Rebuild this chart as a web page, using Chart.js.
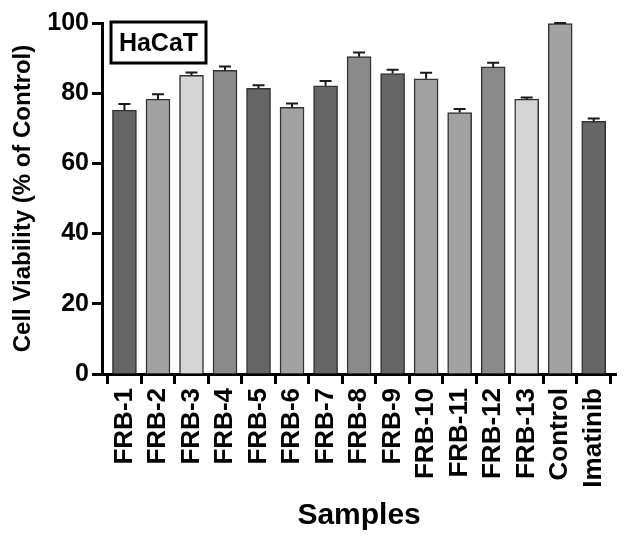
<!DOCTYPE html>
<html>
<head>
<meta charset="utf-8">
<script src="https://cdn.jsdelivr.net/npm/chart.js@4.4.1/dist/chart.umd.min.js"></script>
<style>
  html, body { margin: 0; padding: 0; background: #fff; }
  #box { width: 629px; height: 536px; }
</style>
</head>
<body>
<div id="box"><canvas id="viabilityChart" width="629" height="536"></canvas></div>
<script>
// values
const samples = ["FRB-1", "FRB-2", "FRB-3", "FRB-4", "FRB-5", "FRB-6", "FRB-7",
  "FRB-8", "FRB-9", "FRB-10", "FRB-11", "FRB-12", "FRB-13", "Control", "Imatinib"];
const viability = [75.2, 78.3, 85.1, 86.5, 81.4, 76.0, 82.1, 90.4, 85.6, 84.1, 74.5, 87.5, 78.3, 99.8, 72.0];
const sem = [1.7, 1.4, 0.8, 1.1, 0.9, 1.1, 1.4, 1.2, 1.1, 1.7, 1.0, 1.2, 0.5, 0.2, 0.8];
const yTicks = [0, 20, 40, 60, 80, 100];
const cellLine = "HaCaT";

const fills = ["#666666", "#a2a2a2", "#d5d5d5", "#8a8a8a", "#666666", "#a2a2a2", "#666666",
  "#8a8a8a", "#666666", "#a2a2a2", "#a2a2a2", "#8a8a8a", "#d5d5d5", "#a2a2a2", "#666666"];

const FONT = "'Liberation Sans', Arial, sans-serif";

// upward-only error bars, GraphPad style
const errorBars = {
  id: "errorBars",
  afterDatasetsDraw(chart) {
    const { ctx, scales: { x, y } } = chart;
    ctx.save();
    ctx.strokeStyle = "#1a1a1a";
    ctx.lineWidth = 2;
    viability.forEach((v, i) => {
      const px = x.getPixelForValue(i + 1);
      const top = y.getPixelForValue(v + sem[i]);
      const base = y.getPixelForValue(v);
      ctx.beginPath();
      ctx.moveTo(px, base);
      ctx.lineTo(px, top);
      ctx.moveTo(px - 6, top);
      ctx.lineTo(px + 6, top);
      ctx.stroke();
    });
    ctx.restore();
  }
};

// boxed cell-line label in the top-left corner
const cellBox = {
  id: "cellBox",
  afterDraw(chart) {
    const { ctx, chartArea } = chart;
    const left = chartArea.left + 9, top = chartArea.top - 1;
    ctx.save();
    ctx.lineWidth = 3;
    ctx.strokeStyle = "#000";
    ctx.strokeRect(left, top, 95, 41);
    ctx.fillStyle = "#000";
    ctx.font = "bold 25px " + FONT;
    ctx.textAlign = "center";
    ctx.textBaseline = "middle";
    ctx.fillText(cellLine, left + 47.5, top + 22);
    ctx.restore();
  }
};

new Chart(document.getElementById("viabilityChart"), {
  type: "bar",
  data: {
    datasets: [{
      data: viability.map((v, i) => ({ x: i + 1, y: v })),
      backgroundColor: fills,
      borderColor: "#333333",
      borderWidth: 1.5,
      borderSkipped: "bottom",
      barThickness: 24
    }]
  },
  options: {
    responsive: false,
    animation: false,
    devicePixelRatio: 1,
    layout: { padding: { top: 23, right: 2, left: 0, bottom: 0 } },
    plugins: {
      legend: { display: false },
      tooltip: { enabled: false }
    },
    scales: {
      x: {
        type: "linear",
        min: 0.33,
        max: 15.67,
        offset: false,
        afterBuildTicks: (scale) => { scale.ticks = samples.map((_, i) => ({ value: i + 1 })); },
        afterFit: (scale) => { scale.height = 162; },
        border: { display: true, width: 3, color: "#000" },
        grid: { drawOnChartArea: false, drawTicks: true, tickLength: 10, tickWidth: 3, tickColor: "#000", color: "#000" },
        ticks: {
          autoSkip: false,
          minRotation: 90,
          maxRotation: 90,
          padding: 4,
          color: "#000",
          font: { family: FONT, size: 26, weight: "bold" },
          callback: (v) => samples[v - 1]
        },
        title: {
          display: true,
          text: "Samples",
          color: "#000",
          padding: { top: 0, bottom: 2 },
          font: { family: FONT, size: 30, weight: "bold" }
        }
      },
      y: {
        min: 0,
        max: 100,
        afterBuildTicks: (scale) => { scale.ticks = yTicks.map(v => ({ value: v })); },
        afterFit: (scale) => { scale.width = 102; },
        border: { display: true, width: 3, color: "#000" },
        grid: { drawOnChartArea: false, drawTicks: true, tickLength: 10, tickWidth: 3, tickColor: "#000", color: "#000" },
        ticks: {
          padding: 3,
          color: "#000",
          font: { family: FONT, size: 25, weight: "bold" }
        },
        title: {
          display: true,
          text: "Cell Viability (% of Control)",
          color: "#000",
          padding: { top: 9, bottom: 0 },
          font: { family: FONT, size: 24, weight: "bold" }
        }
      }
    }
  },
  plugins: [errorBars, cellBox]
});
</script>
</body>
</html>
